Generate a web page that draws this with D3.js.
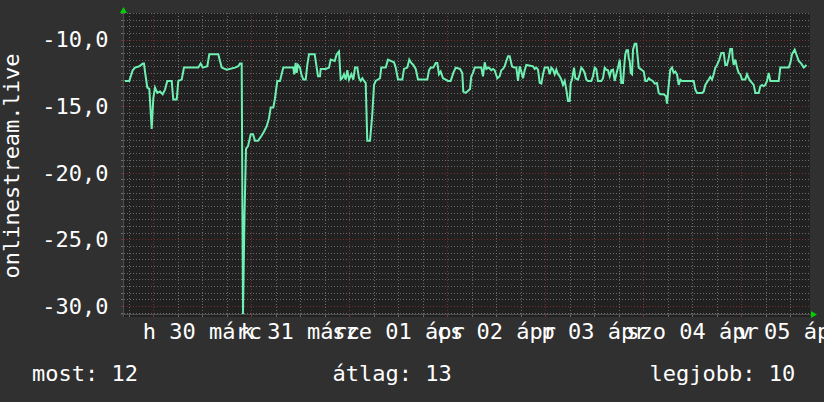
<!DOCTYPE html>
<html><head><meta charset="utf-8">
<script src="https://cdn.jsdelivr.net/npm/d3@7"></script>
<style>html,body{margin:0;padding:0;background:#303030;}svg{display:block}</style>
</head><body>
<svg id="chart" width="824" height="402"></svg>
<script>
// ---- data (hours since start of graph, value) ----
const samples = [
 [0.2,-13.1],[1.3,-13.1],[2.13,-12.3],[2.69,-12.1],[3.75,-12.0],[4.58,-11.8],[4.9,-11.8],[5.14,-12.4],[5.71,-13.6],[6.2,-13.7],
 [6.78,-16.7],[7.18,-14.4],[7.59,-13.6],[8.16,-14.0],[8.82,-13.9],[9.48,-14.1],[10.04,-13.75],[10.6,-13.1],[11.68,-13.1],[12.07,-14.5],
 [12.91,-14.5],[13.3,-13.1],[14.13,-13.0],[14.69,-12.1],[18.2,-12.1],[18.78,-11.8],[19.27,-12.1],[20.4,-12.0],[20.89,-11.1],[23.09,-11.1],
 [23.51,-11.6],[23.93,-12.1],[25.15,-12.25],[27.18,-12.1],[27.99,-12.0],[28.41,-11.8],[28.82,-11.8],[29.14,-30.6],[29.51,-23.2],[29.88,-18.2],
 [30.37,-18.0],[31.03,-17.1],[31.59,-17.1],[32.08,-17.6],[32.82,-17.6],[33.72,-17.2],[34.29,-16.9],[34.95,-16.5],[35.51,-15.9],[35.93,-15.1],
 [36.56,-15.1],[36.98,-14.4],[37.54,-13.1],[38.2,-13.1],[39.01,-12.1],[41.46,-12.1],
 [41.7,-12.6],[42.04,-11.75],[42.29,-12.5],[42.61,-11.9],[43.1,-12.1],[43.44,-12.6],[43.91,-13.0],[44.5,-13.0],[44.89,-11.9],[45.31,-11.1],
 [46.7,-11.1],[47.09,-11.9],[47.51,-12.75],[48.0,-12.75],[48.17,-12.2],[49.4,-12.2],[50.2,-12.1],[50.62,-11.5],[51.6,-11.6],[52.09,-11.1],
 [52.65,-10.9],[53.07,-13.0],[53.46,-12.9],[53.88,-12.6],[54.29,-13.0],[54.69,-12.3],[55.1,-13.0],[55.67,-12.6],[56.16,-13.0],[56.57,-12.1],
 [57.14,-12.1],[57.55,-12.9],[57.97,-13.1],[58.36,-12.9],[58.78,-13.1],[59.19,-13.25],[59.58,-17.6],[60.25,-17.6],[60.81,-15.6],[61.23,-13.4],
 [61.64,-13.1],[62.69,-12.9],[63.01,-12.1],[64.09,-12.1],[64.65,-11.5],[65.31,-11.6],[66.12,-11.7],[66.54,-12.1],[67.1,-13.0],[68.16,-13.0],
 [68.57,-12.2],[69.38,-12.1],[69.87,-11.5],[70.36,-11.75],[70.85,-11.9],[71.44,-12.2],[72.0,-13.0],[74.28,-13.0],[74.69,-12.3],[75.11,-12.1],
 [75.75,-12.1],[76.34,-11.75],[76.73,-11.75],[77.14,-12.6],[77.56,-12.4],[78.12,-12.9],[78.79,-13.0],[79.35,-13.1],[80.01,-13.1],[80.65,-12.5],
 [81.23,-12.1],[82.29,-12.2],[82.85,-12.5],[83.09,-13.9],[83.68,-14.0],[84.07,-13.9],[84.74,-13.7],
 [85.05,-12.75],[85.47,-12.5],[85.89,-12.1],[87.5,-12.1],[87.92,-12.75],[88.33,-11.7],[88.73,-12.2],[89.32,-12.1],[89.95,-12.3],[90.37,-12.2],
 [90.78,-12.3],[91.42,-12.9],[92.01,-12.75],[92.4,-12.3],[92.82,-12.2],[93.23,-12.0],[93.62,-11.6],[94.04,-11.25],[94.46,-11.25],[95.02,-12.0],
 [95.51,-12.1],[96.08,-12.1],[96.49,-13.1],[96.91,-12.0],[97.3,-12.4],[97.72,-12.9],[98.13,-12.3],[98.53,-11.9],[100.17,-12.0],[100.58,-12.2],
 [100.97,-12.1],[101.39,-12.25],[101.81,-13.25],[102.2,-13.3],[102.62,-12.6],[103.03,-12.1],[103.84,-12.1],[104.26,-12.6],[104.65,-12.1],[105.06,-12.25],
 [105.48,-12.6],[105.87,-12.25],[106.29,-12.6],[106.7,-12.75],[107.1,-13.0],[107.51,-13.4],[107.93,-13.1],[108.32,-13.75],[108.74,-14.6],[109.15,-14.6],
 [109.4,-13.25],[109.72,-13.0],[110.21,-12.1],[110.53,-12.9],[111.18,-13.0],[111.6,-12.6],[111.99,-12.1],[112.41,-12.25],[112.82,-12.5],[113.22,-13.0],
 [113.63,-13.1],[114.44,-13.1],[114.86,-12.75],[115.27,-12.1],[115.66,-12.2],[116.08,-13.1],[116.89,-13.1],[117.31,-12.9],[117.72,-12.1],[118.11,-12.25],
 [118.53,-12.3],[118.95,-12.75],[119.34,-12.3],[119.76,-12.25],[120.17,-13.1],[120.57,-12.6],[120.98,-12.1],[121.4,-11.5],[121.79,-13.25],[122.21,-13.25],
 [122.53,-11.9],[122.77,-11.1],[123.07,-10.8],[123.43,-10.8],[123.61,-11.4],[123.85,-11.6],[124.1,-12.5],[124.42,-12.6],[124.66,-10.75],[125.07,-10.3],
 [125.47,-10.3],[126.06,-12.1],[126.69,-12.25],[127.27,-12.4],
 [127.67,-13.1],[128.08,-13.1],[128.5,-12.9],[128.89,-13.0],[129.48,-13.1],[129.97,-13.3],[130.53,-13.25],[130.95,-14.0],[131.34,-14.1],[132.17,-14.1],
 [132.74,-14.25],[132.98,-14.8],[133.4,-13.4],[133.79,-12.25],[134.21,-12.1],[134.62,-12.5],[135.01,-12.4],[135.43,-12.6],[135.85,-13.4],[136.24,-13.0],
 [136.65,-13.1],[139.52,-13.1],[139.91,-13.75],[140.33,-14.0],[141.55,-14.0],[141.97,-13.9],[142.36,-13.4],[143.19,-13.0],[143.58,-12.8],[144.0,-13.0],
 [144.42,-12.6],[144.81,-12.1],[145.23,-11.9],[145.79,-11.5],[146.28,-11.0],[146.87,-11.0],[147.26,-11.9],[147.67,-11.9],[148.09,-11.4],[148.48,-10.7],
 [148.9,-10.7],[149.07,-11.4],[149.31,-11.9],[149.71,-11.5],[150.12,-12.1],[150.54,-12.5],[150.93,-12.6],[151.35,-13.0],[152.16,-13.0],[152.57,-12.6],
 [152.99,-12.9],[153.38,-13.1],[153.8,-13.25],[154.21,-13.4],[154.61,-14.0],[155.44,-14.0],[155.83,-13.5],[156.25,-13.4],[156.66,-13.5],[157.05,-13.4],
 [157.47,-13.1],[157.89,-12.5],[158.28,-13.1],[160.34,-13.1],[160.73,-12.1],[162.78,-12.1],[163.18,-11.75],[163.59,-11.1],[164.25,-10.75],[164.82,-11.25],
 [165.23,-11.6],[165.87,-11.8],[166.46,-12.1],[166.85,-12.0],[167.1,-11.9]
];
const yTickValues = [-30, -25, -20, -15, -10];
const yTickLabels = ["-30,0", "-25,0", "-20,0", "-15,0", "-10,0"];
const dayLabels = ["h 30 márc", "k 31 márc", "sze 01 ápr", "cs 02 ápr", "p 03 ápr", "szo 04 ápr", "v 05 ápr"];
const yTitle = "onlinestream.live";
const legendTexts = ["most: 12", "átlag: 13", "legjobb: 10"];
const yDomain = [-30.6, -8.0];
const startUtc = Date.UTC(2015, 2, 29, 16, 48);

// ---- layout ----
const FONT = "'DejaVu Sans Mono', monospace";
const FS = 22;
const P = {left:124, right:810, top:13, bottom:314};
const svg = d3.select("#chart");
const start = new Date(startUtc), end = new Date(startUtc + 7*864e5);
const x = d3.scaleUtc().domain([start, end]).range([P.left, P.right]);
const y = d3.scaleLinear().domain(yDomain).range([P.bottom, P.top]);
const px = v => Math.round(v) + 0.5;

svg.append("rect").attr("width",824).attr("height",402).attr("fill","#303030");
svg.append("rect").attr("x",P.left-1).attr("y",P.top).attr("width",P.right-P.left+1).attr("height",P.bottom-P.top+3).attr("fill","#212121");

const MINOR = "#6a6a6a", MAJOR = "#7a2e2e";
const DASH = "1,2";
// horizontal grid
const hVals = d3.range(Math.ceil(yDomain[0]*2), Math.floor(yDomain[1]*2)+1).map(k => k/2);
const g = svg.append("g");
hVals.forEach(v => {
  const major = v % 5 === 0;
  const yy = px(y(v));
  g.append("line").attr("x1",P.left).attr("x2",P.right).attr("y1",yy).attr("y2",yy)
   .attr("stroke", major?MAJOR:MINOR).attr("stroke-dasharray",DASH);
  g.append("line").attr("x1",P.left-3).attr("x2",P.left).attr("y1",yy).attr("y2",yy)
   .attr("stroke", major?MAJOR:MINOR);
});
// vertical grid
const minorT = d3.utcHour.every(6).range(start, end);
minorT.forEach(t => {
  const major = t.getUTCHours() === 0;
  const xx = px(x(t));
  g.append("line").attr("x1",xx).attr("x2",xx).attr("y1",P.top).attr("y2",P.bottom)
   .attr("stroke", major?MAJOR:MINOR).attr("stroke-dasharray",DASH);
  g.append("line").attr("x1",xx).attr("x2",xx).attr("y1",P.bottom).attr("y2",P.bottom+3)
   .attr("stroke", major?MAJOR:MINOR);
});
// axes
svg.append("line").attr("x1",px(P.left-1)).attr("x2",px(P.left-1)).attr("y1",P.top).attr("y2",P.bottom+3).attr("stroke","#4e4e4e");
svg.append("line").attr("x1",P.left-3).attr("x2",P.right+2).attr("y1",px(P.bottom)).attr("y2",px(P.bottom)).attr("stroke","#4e4e4e");
// arrows
svg.append("path").attr("d",`M${P.left-4},${P.top} L${P.left+3},${P.top} L${P.left-0.5},${P.top-6} Z`).attr("fill","#00d000");
svg.append("path").attr("d",`M${P.right+1},${P.bottom-3} L${P.right+1},${P.bottom+4} L${P.right+7},${P.bottom+0.5} Z`).attr("fill","#00d000");

// line
svg.append("clipPath").attr("id","clip").append("rect")
  .attr("x",P.left).attr("y",P.top).attr("width",P.right-P.left).attr("height",P.bottom-P.top+2);
const line = d3.line().x(d => x(new Date(startUtc + d[0]*3600e3))).y(d => y(d[1]));
svg.append("path").datum(samples).attr("d", line).attr("clip-path","url(#clip)")
  .attr("fill","none").attr("stroke","#6ef0b2").attr("stroke-width",2).attr("stroke-linejoin","miter");

// y labels
svg.selectAll("text.yl").data(yTickValues).enter().append("text")
  .attr("x",108.5).attr("y",v => y(v)+7.8).attr("text-anchor","end")
  .attr("font-family",FONT).attr("font-size",FS).attr("fill","#ffffff")
  .text((v,i) => yTickLabels[i]);
// x labels at noon
const days = d3.utcDay.range(start, end);
svg.selectAll("text.xl").data(days).enter().append("text")
  .attr("x",d => x(d3.utcHour.offset(d,12))).attr("y",338.5).attr("text-anchor","middle")
  .attr("font-family",FONT).attr("font-size",FS).attr("fill","#ffffff")
  .text((d,i) => dayLabels[i]);
// title
svg.append("text").attr("transform","translate(19,166) rotate(-90)").attr("text-anchor","middle")
  .attr("font-family",FONT).attr("font-size",FS).attr("fill","#ffffff").text(yTitle);
// legend
const legX = [32, 332.5, 649.5];
legendTexts.forEach((t,i) => svg.append("text").attr("x",legX[i]).attr("y",381)
  .attr("font-family",FONT).attr("font-size",FS).attr("fill","#ffffff").text(t));
</script>
</body></html>
